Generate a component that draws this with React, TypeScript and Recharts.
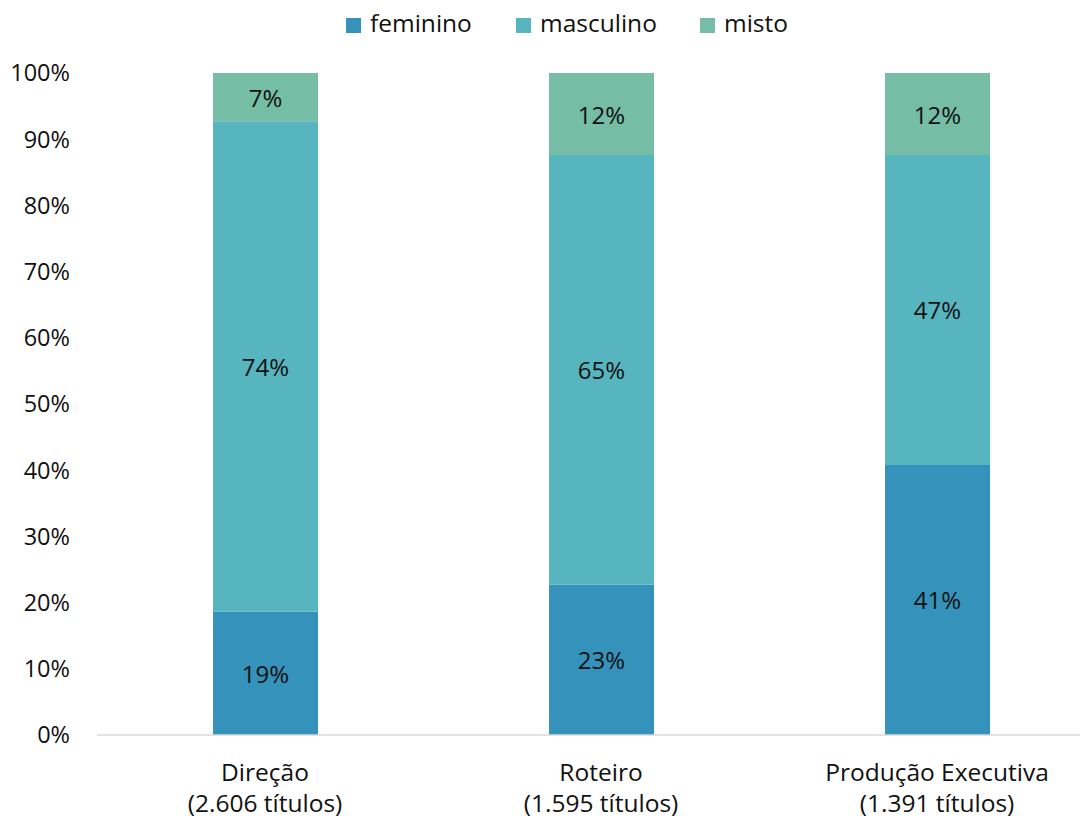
import { BarChart, Bar, XAxis, YAxis, LabelList } from "recharts";

const categories = ["Direção", "Roteiro", "Produção Executiva"];
const subtitles = ["(2.606 títulos)", "(1.595 títulos)", "(1.391 títulos)"];
const feminino = [18.6, 22.7, 40.8];
const masculino = [74.1, 64.9, 46.8];
const misto = [7.3, 12.4, 12.4];
const yTicks = [0, 10, 20, 30, 40, 50, 60, 70, 80, 90, 100];
const seriesNames = ["feminino", "masculino", "misto"] as const;

const labelValues: Record<string, number[]> = {
  feminino: [19, 23, 41],
  masculino: [74, 65, 47],
  misto: [7, 12, 12],
};

const colors = { feminino: "#3592ba", masculino: "#57b5c0", misto: "#75bda5" };
const font = "'Open Sans', sans-serif";
const ink = "#111111";

// legend entry start positions (page coords)
const legendX = [346, 516, 700];

const data = categories.map((c, i) => ({
  name: c,
  sub: subtitles[i],
  feminino: feminino[i],
  masculino: masculino[i],
  misto: misto[i],
}));

function CatTick({ x, y, payload }: any) {
  const i = categories.indexOf(payload.value);
  return (
    <g transform={`translate(${x},${y})`}>
      <text textAnchor="middle" fill={ink} fontSize={24.5} fontFamily={font}>
        <tspan x={0} dy={38}>{payload.value}</tspan>
        <tspan x={0} dy={31}>{subtitles[i]}</tspan>
      </text>
    </g>
  );
}

function LegendSvg() {
  return (
    <svg width={1080} height={48} style={{ position: "absolute", left: -8, top: -8 }}>
      {seriesNames.map((k, i) => (
        <g key={k} transform={`translate(${legendX[i]},0)`}>
          <rect x={0} y={18} width={15} height={15} fill={colors[k]} />
          <text x={24} y={32} fill={ink} fontSize={24.5} fontFamily={font}>
            {k}
          </text>
        </g>
      ))}
    </svg>
  );
}

function makeLabel(key: string) {
  return (props: any) => {
    const { x, y, width, height, index } = props;
    return (
      <text
        x={x + width / 2}
        y={y + height / 2}
        textAnchor="middle"
        dominantBaseline="central"
        fill={ink}
        fontSize={24}
        fontFamily={font}
      >
        {labelValues[key][index]}%
      </text>
    );
  };
}

export default function App() {
  return (
    <div style={{ position: "relative", width: 1080, height: 810 }}>
      <BarChart width={1080} height={810} data={data} margin={{ top: 65, right: 0, left: 0, bottom: 0 }}>
        <YAxis
          width={89}
          domain={[0, 100]}
          ticks={yTicks}
          tickFormatter={(v) => `${v}%`}
          axisLine={false}
          tickLine={false}
          tickMargin={21}
          tick={{ fill: ink, fontSize: 23.5, fontFamily: font }}
        />
        <XAxis
          dataKey="name"
          height={83}
          padding={{ left: 0, right: -17 }}
          axisLine={{ stroke: "#d9d9d9", strokeWidth: 1.5 }}
          tickLine={false}
          interval={0}
          tick={<CatTick />}
        />
        {seriesNames.map((k) => (
          <Bar key={k} dataKey={k} stackId="a" fill={colors[k]} barSize={105} isAnimationActive={false}>
            <LabelList dataKey={k} content={makeLabel(k)} />
          </Bar>
        ))}
      </BarChart>
      <LegendSvg />
    </div>
  );
}
